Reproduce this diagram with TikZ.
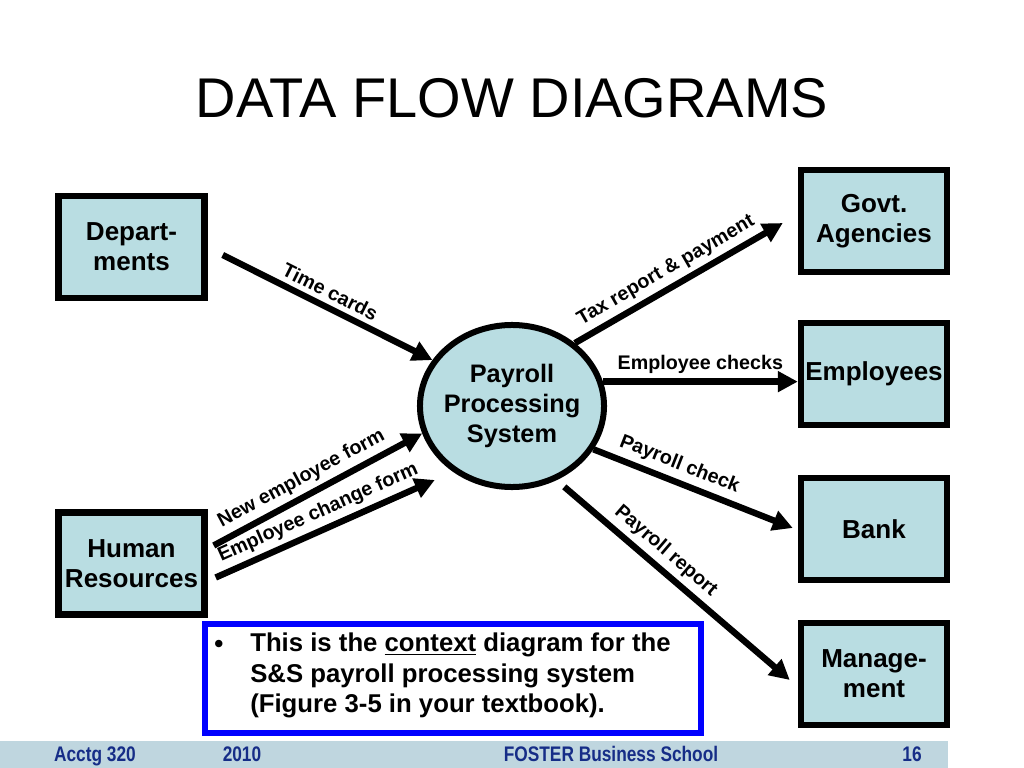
\documentclass[tikz,border=0pt]{standalone}
\usepackage{fontspec}
\setmainfont{Liberation Sans}
\usetikzlibrary{shapes.geometric, arrows.meta}
\definecolor{boxBlue}{RGB}{185,221,226}
\definecolor{footBand}{RGB}{191,214,223}
\definecolor{footText}{RGB}{22,45,135}
\tikzstyle{entity} = [rectangle, minimum width=3.65cm, minimum height=2.55cm, inner sep=2pt, text centered, draw=black, line width=0.16cm, fill=boxBlue, font=\fontsize{18.5pt}{21.3pt}\selectfont\bfseries]
\tikzstyle{process} = [ellipse, minimum width=4.6cm, minimum height=4.05cm, draw=black, line width=0.15cm, fill=boxBlue]
\tikzstyle{processText} = [inner sep=0pt, font=\fontsize{18pt}{21.3pt}\selectfont\bfseries]
\tikzstyle{arrow} = [line width=0.16cm, -{Triangle[length=0.5cm, width=0.5cm]}]
\tikzstyle{flowlabel} = [sloped, above, inner sep=3.5pt, font=\fontsize{14pt}{16pt}\selectfont\bfseries]
\tikzstyle{titleText} = [inner sep=0pt, font=\fontsize{39.8pt}{44pt}\selectfont]
\tikzstyle{noteBox} = [rectangle, draw=blue, line width=0.14cm, minimum width=12.4cm, minimum height=2.725cm]
\tikzstyle{noteText} = [inner sep=0pt, align=left, font=\fontsize{18.3pt}{21.7pt}\selectfont\bfseries]
\tikzstyle{footer} = [inner sep=0pt, anchor=base, text=footText, font=\fontsize{15pt}{17pt}\selectfont\bfseries]

\begin{document}
\begin{tikzpicture}[x=0.025cm, y=-0.025cm]

\useasboundingbox (0,0) rectangle (1024,768);

% Title
\node (title) [titleText] at (512,98) {DATA FLOW DIAGRAMS};

% Column 1 - Sources
\node[draw, align=center] (depts) [entity] at (131.5,247) {Depart-\\ments};
\node[draw, align=center] (humanRes) [entity] at (131.5,563.5) {Human\\Resources};

% Column 2 - The process
\node[draw] (payroll) [process] at (512,406) {};
\node[align=center] (payrollText) [processText] at (payroll.center) {Payroll\\Processing\\System};

% Column 3 - Sinks
\node[draw, align=center] (govt) [entity] at (874,221) {Govt.\\Agencies};
\node[draw, align=center] (employees) [entity] at (874,374) {Employees};
\node[draw, align=center] (bank) [entity] at (874,529) {Bank};
\node[draw, align=center] (mgmt) [entity] at (874,674) {Manage-\\ment};

% Flows into the process
\draw [arrow] ([shift={(15,8)}]depts.east) -- node[flowlabel, pos=0.48] {Time cards} (payroll.150);
\draw [arrow] ([shift={(6,-18)}]humanRes.east) -- node[flowlabel, pos=0.46] {New employee form} (payroll.197);
\draw [arrow] ([shift={(8,14)}]humanRes.east) -- node[flowlabel, pos=0.5] {Employee change form} ([shift={(-13,12)}]payroll.224);

% Flows out of the process
\draw [arrow] (payroll.45) -- node[flowlabel, pos=0.48] {Tax report \& payment} ([shift={(-15,2)}]govt.west);
\draw [arrow] (payroll.15) -- node[flowlabel] {Employee checks} (payroll.15 -| employees.west);
\draw [arrow] (payroll.-28) -- node[flowlabel, pos=0.4] {Payroll check} ([shift={(-5,-1)}]bank.west);
\draw [arrow] ([shift={(5,8)}]payroll.-57) -- node[flowlabel, pos=0.4] {Payroll report} ([shift={(-8,6)}]mgmt.west);

% Note
\node (note) [noteBox] at (453,678.5) {};
\node (noteBullet) [noteText] at (219,646) {\textbullet};
\node[anchor=north west] (noteLines) [noteText] at (250,633) {This is the \underline{context} diagram for the\\S\&S payroll processing system\\(Figure 3-5 in your textbook).};

% Footer
\fill[footBand] (0,741) rectangle (948,768);
\node (footCourse) [footer] at (95,761) {\scalebox{0.82}[1]{Acctg 320}};
\node (footYear) [footer] at (242,761) {\scalebox{0.82}[1]{2010}};
\node (footSchool) [footer] at (611,761) {\scalebox{0.82}[1]{FOSTER Business School}};
\node (footPage) [footer] at (912,761) {\scalebox{0.82}[1]{16}};

\end{tikzpicture}
\end{document}
